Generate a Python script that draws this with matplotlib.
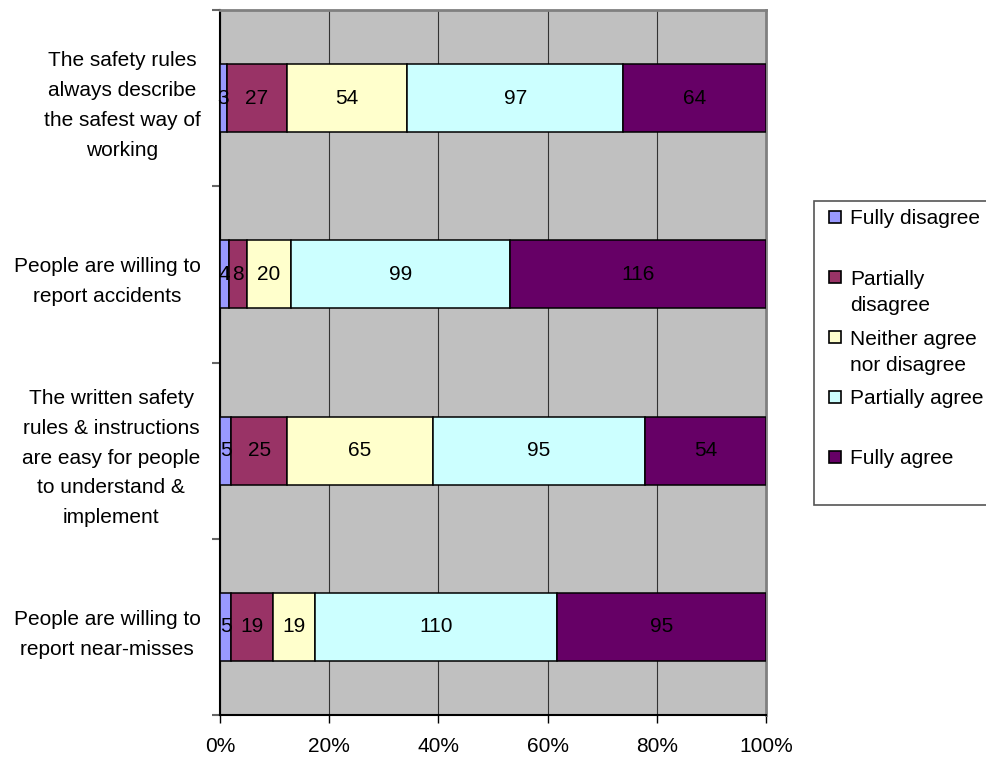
import numpy as np
import matplotlib
matplotlib.use("Agg")
import matplotlib.pyplot as plt
from matplotlib.patches import Rectangle

plt.rcParams["font.family"] = ["Liberation Sans", "DejaVu Sans"]

# Survey statements, top to bottom
statements = [
    "The safety rules\nalways describe\nthe safest way of\nworking",
    "People are willing to\nreport accidents",
    "The written safety\nrules & instructions\nare easy for people\nto understand &\nimplement",
    "People are willing to\nreport near-misses",
]

answers = ["Fully disagree", "Partially\ndisagree", "Neither agree\nnor disagree",
           "Partially agree", "Fully agree"]

fully_disagree = [3, 4, 5, 5]
partially_disagree = [27, 8, 25, 19]
neither = [54, 20, 65, 19]
partially_agree = [97, 99, 95, 110]
fully_agree = [64, 116, 54, 95]

colors = ["#9999FF", "#993366", "#FFFFCC", "#CCFFFF", "#660066"]

counts = np.array([fully_disagree, partially_disagree, neither,
                   partially_agree, fully_agree], dtype=float)
shares = counts / counts.sum(axis=0)

fig = plt.figure(figsize=(9.86, 7.58), dpi=100)
ax = fig.add_axes([220 / 986, 1 - 715 / 758, 546 / 986, 705 / 758])
ax.set_facecolor("#C0C0C0")

y = np.arange(len(statements))
left = np.zeros(len(statements))
for i in range(len(answers)):
    ax.barh(y, shares[i], left=left, height=0.386, color=colors[i],
            edgecolor="black", linewidth=1.1, zorder=3)
    for j in range(len(statements)):
        ax.text(left[j] + shares[i][j] / 2, y[j], f"{int(counts[i][j])}",
                ha="center", va="center", fontsize=15, zorder=4)
    left += shares[i]

ax.set_xlim(0, 1)
ax.set_ylim(len(statements) - 0.5, -0.5)

ax.set_xticks(np.linspace(0, 1, 6))
ax.set_xticklabels([f"{int(v)}%" for v in np.linspace(0, 100, 6)], fontsize=15)
ax.tick_params(axis="x", direction="out", length=6, width=1, pad=10)
ax.grid(axis="x", color="#333333", linewidth=0.8, zorder=1)

ax.set_yticks(y)
ax.set_yticklabels(statements, fontsize=15, multialignment="center",
                   linespacing=1.72)
ax.tick_params(axis="y", length=0, pad=14)
ax.set_yticks(np.arange(len(statements) + 1) - 0.5, minor=True)
ax.tick_params(axis="y", which="minor", direction="out", length=6,
               width=1.5, color="#666666")

for side in ["left", "bottom"]:
    ax.spines[side].set_color("black")
    ax.spines[side].set_linewidth(1.5)
for side in ["top", "right"]:
    ax.spines[side].set_color("#808080")
    ax.spines[side].set_linewidth(2)

# Legend drawn by hand so the swatches sit on the first text line
W, H = 986, 758
fig.patches.append(Rectangle((814 / W, 1 - 505 / H), 200 / W, 304 / H,
                             transform=fig.transFigure, facecolor="white",
                             edgecolor="#555555", linewidth=1.2))
entry_y = [217, 277, 337, 397, 457]
for label, col, yc in zip(answers, colors, entry_y):
    fig.patches.append(Rectangle((829 / W, 1 - (yc + 6) / H), 12 / W, 12 / H,
                                 transform=fig.transFigure, facecolor=col,
                                 edgecolor="black", linewidth=1.2))
    for k, line in enumerate(label.split("\n")):
        fig.text(850 / W, 1 - (yc + 7.5 + 26.5 * k) / H, line, fontsize=15,
                 va="baseline", ha="left")

fig.savefig("out.png", dpi=100)
